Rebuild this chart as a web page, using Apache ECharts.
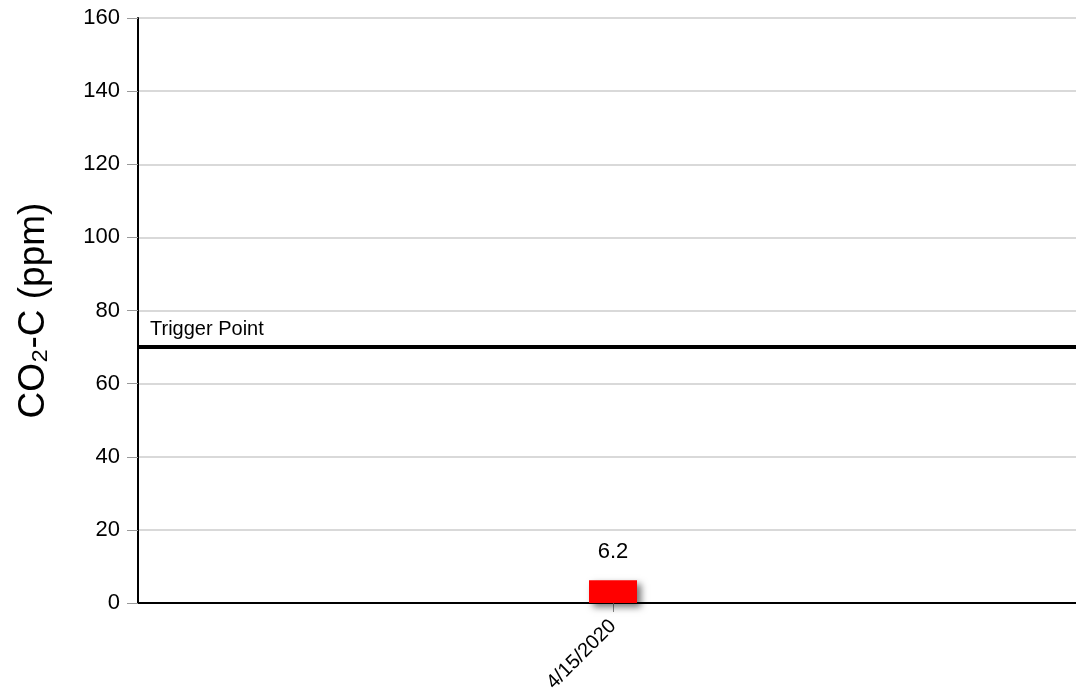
<!DOCTYPE html>
<html>
<head>
<meta charset="utf-8">
<script src="https://cdn.jsdelivr.net/npm/echarts@6/dist/echarts.min.js"></script>
<style>
  html, body { margin: 0; padding: 0; background: #fff; overflow: hidden; }
  #chart { width: 1100px; height: 699px; }
</style>
</head>
<body>
<div id="chart"></div>
<script>
var categories = ['4/15/2020'];
var co2Values = [6.2];
var triggerPoint = 70;
var yTicks = { min: 0, max: 160, interval: 20 };

var myChart = echarts.init(document.getElementById('chart'));
var font = 'Liberation Sans, Arial, sans-serif';

var option = {
  animation: false,
  grid: { left: 138, right: 12, top: 18, bottom: 96, containLabel: false },
  xAxis: {
    type: 'category',
    data: categories,
    axisLine: { lineStyle: { color: '#000', width: 2 } },
    axisTick: { show: true, alignWithLabel: true, length: 9, lineStyle: { color: '#888' } },
    axisLabel: {
      rotate: 45, margin: 20, fontSize: 20, color: '#000', fontFamily: font
    }
  },
  yAxis: {
    type: 'value',
    min: yTicks.min, max: yTicks.max, interval: yTicks.interval,
    name: 'CO\u2082-C (ppm)',
    nameLocation: 'middle',
    nameGap: 86,
    nameTextStyle: { fontSize: 37, color: '#000', fontFamily: font },
    axisLine: { show: true, lineStyle: { color: '#000', width: 2 } },
    axisTick: { show: true, inside: false, length: 11, lineStyle: { color: '#999' } },
    axisLabel: { fontSize: 22, color: '#000', margin: 18, fontFamily: font },
    splitLine: { lineStyle: { color: '#d9d9d9', width: 2 } }
  },
  series: [{
    type: 'bar',
    data: co2Values,
    barWidth: 48,
    itemStyle: {
      color: '#ff0000',
      shadowColor: 'rgba(0,0,0,0.55)',
      shadowBlur: 7,
      shadowOffsetX: 4,
      shadowOffsetY: 4
    },
    label: {
      show: true, position: 'top', distance: 17,
      fontSize: 22, color: '#000', fontFamily: font
    },
    markLine: {
      symbol: 'none',
      silent: true,
      lineStyle: { color: '#000', width: 4, type: 'solid' },
      label: {
        show: true, position: 'insideStartTop', formatter: 'Trigger Point',
        fontSize: 20, color: '#000', distance: [12, 8], fontFamily: font
      },
      data: [{ yAxis: triggerPoint }]
    }
  }]
};

myChart.setOption(option);
window.addEventListener('resize', function () {
  myChart.resize();
});
</script>
</body>
</html>
